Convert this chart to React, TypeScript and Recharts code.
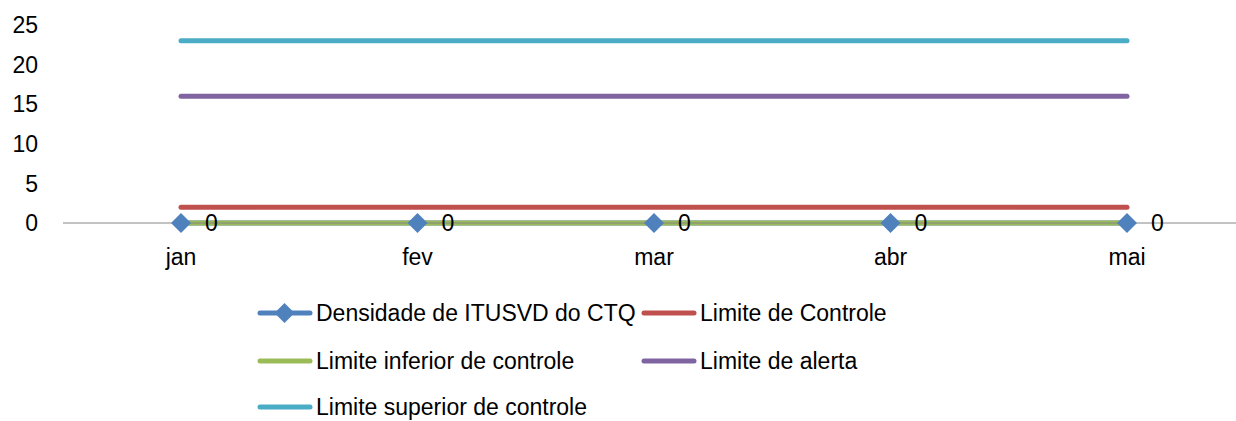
import React from 'react';
import { LineChart, Line, XAxis, YAxis, LabelList } from 'recharts';

const months = ['jan', 'fev', 'mar', 'abr', 'mai'];
const densidade = [0, 0, 0, 0, 0];
const limiteControle = [2, 2, 2, 2, 2];
const limiteInferior = [0, 0, 0, 0, 0];
const limiteAlerta = [16, 16, 16, 16, 16];
const limiteSuperior = [23, 23, 23, 23, 23];
const yTicks = [0, 5, 10, 15, 20, 25];

const seriesDefs = [
  { key: 'densidade', name: 'Densidade de ITUSVD do CTQ', values: densidade, color: '#4F81BD', marker: true },
  { key: 'controle', name: 'Limite de Controle', values: limiteControle, color: '#C0504D', marker: false },
  { key: 'inferior', name: 'Limite inferior de controle', values: limiteInferior, color: '#9BBB59', marker: false },
  { key: 'alerta', name: 'Limite de alerta', values: limiteAlerta, color: '#8064A2', marker: false },
  { key: 'superior', name: 'Limite superior de controle', values: limiteSuperior, color: '#4BACC6', marker: false },
];

const data = months.map((m, i) => {
  const row: Record<string, any> = { month: m };
  seriesDefs.forEach((s) => {
    row[s.key] = s.values[i];
  });
  return row;
});

const FONT = "'Liberation Sans', Arial, sans-serif";

const Diamond = (props: any) => {
  const { cx, cy } = props;
  if (cx == null || cy == null) return null;
  const r = 10;
  return (
    <path
      d={`M${cx},${cy - r} L${cx + r},${cy} L${cx},${cy + r} L${cx - r},${cy} Z`}
      fill="#4F81BD"
      stroke="none"
    />
  );
};

const LegendIcon = ({ color, marker }: { color: string; marker: boolean }) => (
  <svg width={56} height={22} style={{ display: 'block', flex: 'none' }}>
    <line x1={3} y1={11} x2={53} y2={11} stroke={color} strokeWidth={5} strokeLinecap="round" />
    {marker && <path d="M27.5,1 L37.5,11 L27.5,21 L17.5,11 Z" fill={color} />}
  </svg>
);

const legendCols = [257, 641];
const legendRows = [313, 361, 407];

export default function App() {
  return (
    <div
      style={{
        position: 'relative',
        width: 1236,
        height: 421,
        overflow: 'hidden',
        background: '#fff',
        fontFamily: FONT,
      }}
    >
      <style>{`html, body { margin: 0; padding: 0; overflow: hidden; }`}</style>
      <LineChart
        width={1236}
        height={421}
        data={data}
        margin={{ top: 25, right: 0, bottom: 0, left: 0 }}
      >
        <XAxis
          dataKey="month"
          padding={{ left: 118, right: 109 }}
          height={198}
          axisLine={{ stroke: '#868686', strokeWidth: 1 }}
          tickLine={false}
          tickSize={0}
          tickMargin={26}
          tick={{ fill: '#000', fontSize: 23, fontFamily: FONT }}
          interval={0}
        />
        <YAxis
          domain={[0, 25]}
          ticks={yTicks}
          width={63}
          axisLine={false}
          tickLine={false}
          tickSize={0}
          tickMargin={25}
          tick={{ fill: '#000', fontSize: 23, fontFamily: FONT }}
        />
        {seriesDefs.map((s) => (
          <Line
            key={s.key}
            type="linear"
            dataKey={s.key}
            name={s.name}
            stroke={s.color}
            strokeWidth={5}
            strokeLinecap="round"
            dot={s.marker ? <Diamond /> : false}
            activeDot={false}
            isAnimationActive={false}
          >
            {s.marker && (
              <LabelList
                dataKey={s.key}
                position="right"
                offset={24}
                fill="#000"
                fontSize={23}
                fontFamily={FONT}
              />
            )}
          </Line>
        ))}
      </LineChart>
      {seriesDefs.map((s, i) => {
        const col = i % 2;
        const row = Math.floor(i / 2);
        return (
          <div
            key={s.key}
            style={{
              position: 'absolute',
              left: legendCols[col],
              top: legendRows[row] - 11,
              height: 22,
              display: 'flex',
              alignItems: 'center',
              fontSize: 23,
              lineHeight: '22px',
              color: '#000',
              whiteSpace: 'nowrap',
            }}
          >
            <LegendIcon color={s.color} marker={s.marker} />
            <span style={{ marginLeft: 3 }}>{s.name}</span>
          </div>
        );
      })}
    </div>
  );
}
